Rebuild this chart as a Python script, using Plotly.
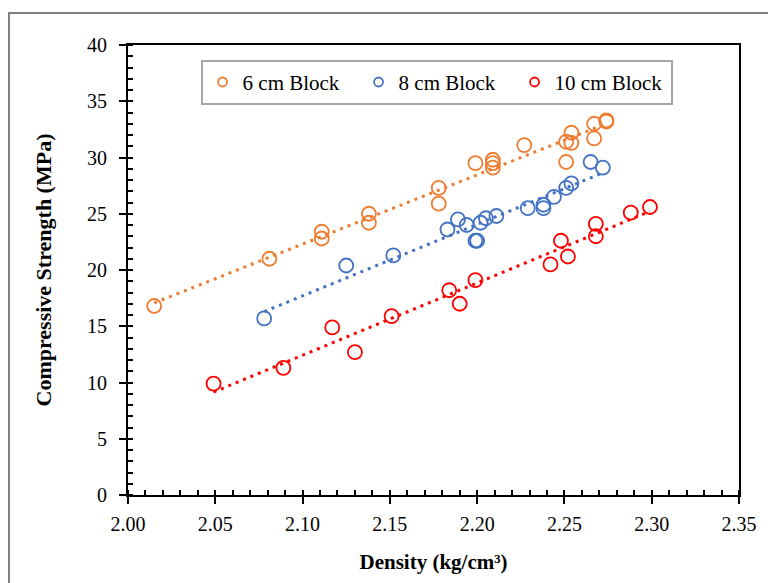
import numpy as np
import plotly.graph_objects as go

# ---- data ----
x6 = [2.015, 2.081, 2.111, 2.111, 2.138, 2.138, 2.178, 2.178, 2.199, 2.209, 2.209, 2.209,
      2.227, 2.251, 2.251, 2.254, 2.254, 2.267, 2.267, 2.274, 2.274]
y6 = [16.8, 21.0, 23.4, 22.8, 25.0, 24.2, 27.3, 25.9, 29.5, 29.8, 29.5, 29.1,
      31.1, 31.4, 29.6, 32.2, 31.3, 33.0, 31.7, 33.2, 33.3]

x8 = [2.078, 2.125, 2.152, 2.183, 2.189, 2.194, 2.199, 2.200, 2.202, 2.205, 2.211,
      2.229, 2.238, 2.238, 2.244, 2.251, 2.254, 2.265, 2.272]
y8 = [15.7, 20.4, 21.3, 23.6, 24.5, 24.0, 22.6, 22.6, 24.2, 24.6, 24.8,
      25.5, 25.8, 25.5, 26.5, 27.3, 27.7, 29.6, 29.1]

x10 = [2.049, 2.089, 2.117, 2.130, 2.151, 2.184, 2.190, 2.199, 2.242, 2.248, 2.252,
       2.268, 2.268, 2.288, 2.299]
y10 = [9.9, 11.3, 14.9, 12.7, 15.9, 18.2, 17.0, 19.1, 20.5, 22.6, 21.2,
       24.1, 23.0, 25.1, 25.6]

names = ["6 cm Block", "8 cm Block", "10 cm Block"]
colors = ["#ED7D31", "#4472C4", "#FF0000"]
series = [(x6, y6), (x8, y8), (x10, y10)]

x_ticks = [2.0, 2.05, 2.1, 2.15, 2.2, 2.25, 2.3, 2.35]
x_ticktext = ["2.00", "2.05", "2.10", "2.15", "2.20", "2.25", "2.30", "2.35"]
y_ticks = [0, 5, 10, 15, 20, 25, 30, 35, 40]

FONT = "Liberation Serif, Times New Roman, serif"

fig = go.Figure()
for (xs, ys), name, c in zip(series, names, colors):
    xa, ya = np.array(xs), np.array(ys)
    m, b = np.polyfit(xa, ya, 1)
    xl = np.array([xa.min(), xa.max()])
    fig.add_trace(go.Scatter(x=xl, y=m * xl + b, mode="lines",
                             line=dict(color=c, width=3, dash="3px,5px"),
                             showlegend=False, hoverinfo="skip"))
    fig.add_trace(go.Scatter(x=xs, y=ys, mode="markers", name=name,
                             marker=dict(symbol="circle-open", size=14, color=c,
                                         line=dict(width=1.8, color=c)),
                             showlegend=False))
    # legend proxy with small marker
    fig.add_trace(go.Scatter(x=[None], y=[None], mode="markers", name=name,
                             marker=dict(symbol="circle-open", size=9, color=c,
                                         line=dict(width=1.8, color=c))))

axis_common = dict(showgrid=False, zeroline=False, showline=True, linecolor="black",
                   linewidth=2, mirror=True, ticks="outside", ticklen=7, tickwidth=1.5,
                   tickcolor="black", tickfont=dict(family=FONT, size=20, color="black"))

fig.update_xaxes(range=[2.0, 2.35], tickvals=x_ticks, ticktext=x_ticktext,
                 minor=dict(dtick=0.01, tick0=2.0, ticks="inside", ticklen=5, tickwidth=1.5,
                            tickcolor="black"),
                 ticklabelstandoff=3,
                 title=dict(text="<b>Density (kg/cm³)</b>", font=dict(family=FONT, size=21, color="black"),
                            standoff=20),
                 **axis_common)
fig.update_yaxes(range=[0, 40], tickvals=y_ticks,
                 minor=dict(dtick=1, tick0=0, ticks="inside", ticklen=5, tickwidth=1.5,
                            tickcolor="black"),
                 ticklabelstandoff=8,
                 title=dict(text="<b>Compressive Strength (MPa)</b>",
                            font=dict(family=FONT, size=22, color="black"), standoff=29),
                 **axis_common)

fig.update_layout(
    width=768, height=583,
    margin=dict(l=128, r=29, t=45, b=88),
    paper_bgcolor="white", plot_bgcolor="white",
    font=dict(family=FONT, size=20, color="black"),
    legend=dict(orientation="h", x=0.505, xanchor="center", y=0.967, yanchor="top",
                bgcolor="white", bordercolor="#A6A6A6", borderwidth=2,
                font=dict(family=FONT, size=21, color="black"),
                entrywidth=111, itemwidth=30),
    shapes=[dict(type="rect", xref="paper", yref="paper",
                 x0=-119 / 611, x1=1 + 60 / 611, y0=-120 / 450, y1=1 + 32 / 450,
                 line=dict(color="#7F7F7F", width=2), layer="below")],
)

fig.write_html("out.html")
